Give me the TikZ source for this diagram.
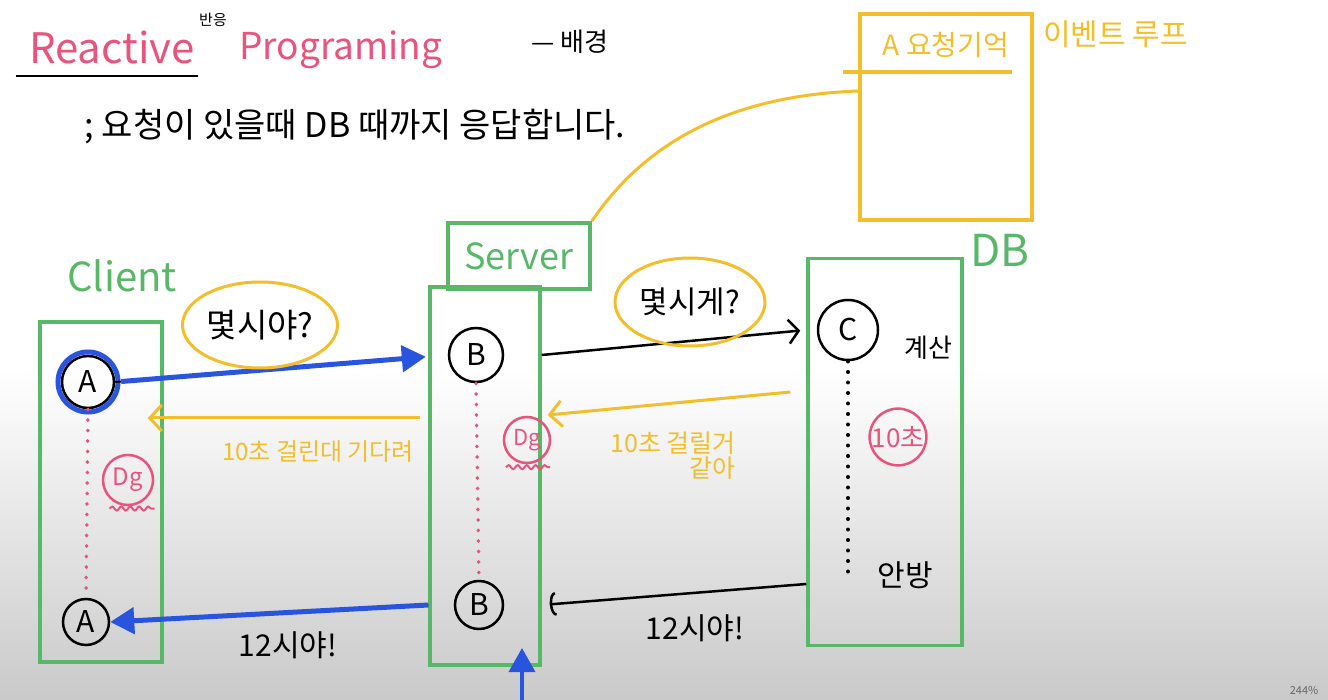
\documentclass[tikz,border=0pt]{standalone}
\usepackage{fontspec}
\setmainfont{Noto Sans CJK KR}
\usepackage{tikz}
\usetikzlibrary{arrows.meta,positioning,shapes.geometric,decorations.pathmorphing}

\definecolor{penpink}{RGB}{232,84,124}
\definecolor{penyellow}{RGB}{242,190,44}
\definecolor{pengreen}{RGB}{88,184,104}
\definecolor{penblue}{RGB}{40,84,222}

\newcommand{\fs}[1]{\fontsize{#1}{#1}\selectfont}

\begin{document}
\begin{tikzpicture}[
    x=1pt, y=-1pt,
    column/.style={
        rectangle,
        draw=pengreen,
        line width=3.5pt,
        inner sep=0pt
    },
    actor/.style={
        circle,
        draw=black,
        line width=2.5pt,
        inner sep=0pt,
        font=\fs{30}
    },
    memo/.style={
        circle,
        draw=penpink,
        line width=2.5pt,
        inner sep=0pt,
        text=penpink
    },
    bubble/.style={
        ellipse,
        draw=penyellow,
        line width=3pt,
        inner sep=0pt,
        font=\fs{33}
    },
    bluearrow/.style={-{Triangle[length=24pt,width=26pt]}, penblue, line width=5pt},
    blackarrow/.style={-{Straight Barb[length=10pt,width=24pt]}, black, line width=2.5pt},
    yellowarrow/.style={-{Straight Barb[length=12pt,width=26pt]}, penyellow, line width=3pt},
    squiggle/.style={penpink, line width=2pt, decorate,
        decoration={snake, amplitude=2pt, segment length=9pt}},
    waitdots/.style={line width=3.5pt, line cap=round, dash pattern=on 0.5pt off 10pt}
]

% =========================================
% Paper (whiteboard, darker towards the bottom)
% =========================================
\fill[white] (0,0) rectangle (1328,700);
\shade[top color=white, bottom color=black!21] (0,370) rectangle (1328,700);
\useasboundingbox (0,0) rectangle (1328,700);

% =========================================
% Title
% =========================================
\node[text=penpink, font=\fs{42}] (title) at (112,48) {Reactive};
\node[font=\fs{15}] (furigana) at (213,20) {반응};
\node[text=penpink, font=\fs{37}, anchor=west] (prog) at (236,50) {Programing};
\node[font=\fs{26}] (bg) at (570,42) {— 배경};
\draw[line width=2.5pt] ([yshift=-8pt,xshift=-10pt]title.south west) -- ([yshift=-8pt]title.south east);

\node[font=\fs{34}] (desc) at (355,127) {; 요청이 있을때 DB 때까지 응답합니다.};

% =========================================
% Event loop box (top right)
% =========================================
\node[rectangle, draw=penyellow, line width=3.5pt, minimum width=172pt,
      minimum height=206pt] (evbox) at (946,117) {};
\node[text=penyellow, font=\fs{28}] (evhead) at (946,45) {A 요청기억};
\coordinate (evsplit) at (843,72);
\draw[penyellow, line width=3.5pt] (evsplit) -- ([xshift=-22pt]evsplit -| evbox.east);
\node[text=penyellow, font=\fs{30}, right=6pt of evbox.north east, anchor=west,
      yshift=-22pt] (evloop) {이벤트 루프};

% =========================================
% Columns
% =========================================
\node[column, minimum width=122pt, minimum height=340pt] (cli) at (101,492) {};
\node[text=pengreen, font=\fs{40}] (clilabel) at (122,276) {Client};

\node[column, minimum width=142pt, minimum height=66pt, text=pengreen,
      font=\fs{36}] (srvhead) at (519,256) {Server};
\node[column, minimum width=110pt, minimum height=378pt] (srv) at (485,476) {};

\node[column, minimum width=154pt, minimum height=387pt] (db) at (885,452) {};
\node[text=pengreen, font=\fs{44}] (dblabel) at (1000,250) {DB};

% server is linked to the event loop
\draw[penyellow, line width=3pt] (srvhead.north east)
    .. controls (640,150) and (720,96) .. ([yshift=26pt]evbox.west);

% =========================================
% Client lifeline
% =========================================
\node[actor, minimum size=52pt] (A1) at (88,382) {A};
\draw[penblue, line width=5pt] (A1) circle (30);
\node[actor, minimum size=46pt] (A2) at (86,622) {A};
\draw[penpink, waitdots] (A1.south) -- (A2.north);
\node[memo, minimum size=50pt, font=\fs{24}] (dg1) at (128,480) {Dg};
\draw[squiggle] ([yshift=-10pt]dg1.south west) -- ([yshift=-10pt,xshift=8pt]dg1.south east);

% =========================================
% Server lifeline
% =========================================
\node[actor, minimum size=54pt] (B1) at (476,355) {B};
\node[actor, minimum size=48pt] (B2) at (479,605) {B};
\draw[penpink, waitdots] (B1.south) -- (B2.north);
\node[memo, minimum size=46pt, font=\fs{22}] (dg2) at (527,440) {Dg};
\draw[squiggle] ([yshift=-10pt,xshift=-4pt]dg2.south west) -- ([yshift=-10pt,xshift=6pt]dg2.south east);

% =========================================
% DB lifeline
% =========================================
\node[actor, minimum size=60pt] (C) at (848,330) {C};
\node[font=\fs{26}, right=22pt of C, yshift=-18pt] (calc) {계산};
\coordinate (dbend) at (848,574);
\draw[black, waitdots] (C.south) -- (dbend);
\node[memo, minimum size=56pt, font=\fs{26}] (ten) at (898,437) {10초};
\node[font=\fs{30}] (done) at (905,575) {안방};

% =========================================
% Messages
% =========================================
\coordinate (rowA) at (0,418);
\coordinate (rowB) at (0,392);
\coordinate (rowC) at (0,415);
\coordinate (rowD) at (0,584);

% Client -> Server
\draw[black, line width=2pt, shorten >=24pt] (A1.east) -- (B1.west);
\draw[bluearrow, shorten <=6pt, shorten >=22pt] (A1.east) -- (B1.west);
\node[bubble, minimum width=155pt, minimum height=86pt] (ask1) at (260,325) {몇시야?};

% Server -> Client (wait)
\draw[yellowarrow] ([xshift=-8pt]srv.west |- rowA) -- ([xshift=-16pt]cli.east |- rowA);
\node[text=penyellow, font=\fs{24}] (wait1) at (318,452) {10초 걸린대 기다려};

% Server -> DB
\draw[blackarrow, shorten >=6pt] (srv.east |- B1) -- (db.west |- C);
\node[bubble, minimum width=150pt, minimum height=88pt, font=\fs{31}] (ask2) at (690,302) {몇시게?};

% DB -> Server (wait)
\draw[yellowarrow] ([xshift=-16pt]db.west |- rowB) -- ([xshift=6pt]srv.east |- rowC);
\node[text=penyellow, font=\fs{25}, align=right] (wait2) at (673,456) {10초 걸릴거\\같아};

% DB -> Server (answer)
\draw[-{Arc Barb[length=6pt,width=24pt]}, line width=2.5pt, shorten >=8pt]
    (db.west |- rowD) -- (srv.east |- B2);
\node[font=\fs{30}] (noon2) at (695,628) {12시야!};

% Server -> Client (answer)
\draw[black, line width=2pt, shorten >=18pt] (srv.west |- B2) -- (A2.east);
\draw[bluearrow] (srv.west |- B2) -- (A2.east);
\node[font=\fs{30}] (noon1) at (288,645) {12시야!};

% event pushed back into the server
\coordinate (push) at (522,700);
\draw[bluearrow, line width=3.5pt] (push) -- (522,648);

\node[text=black!60, font=\fs{11}] (zoom) at (1304,690) {244\%};

\end{tikzpicture}
\end{document}
